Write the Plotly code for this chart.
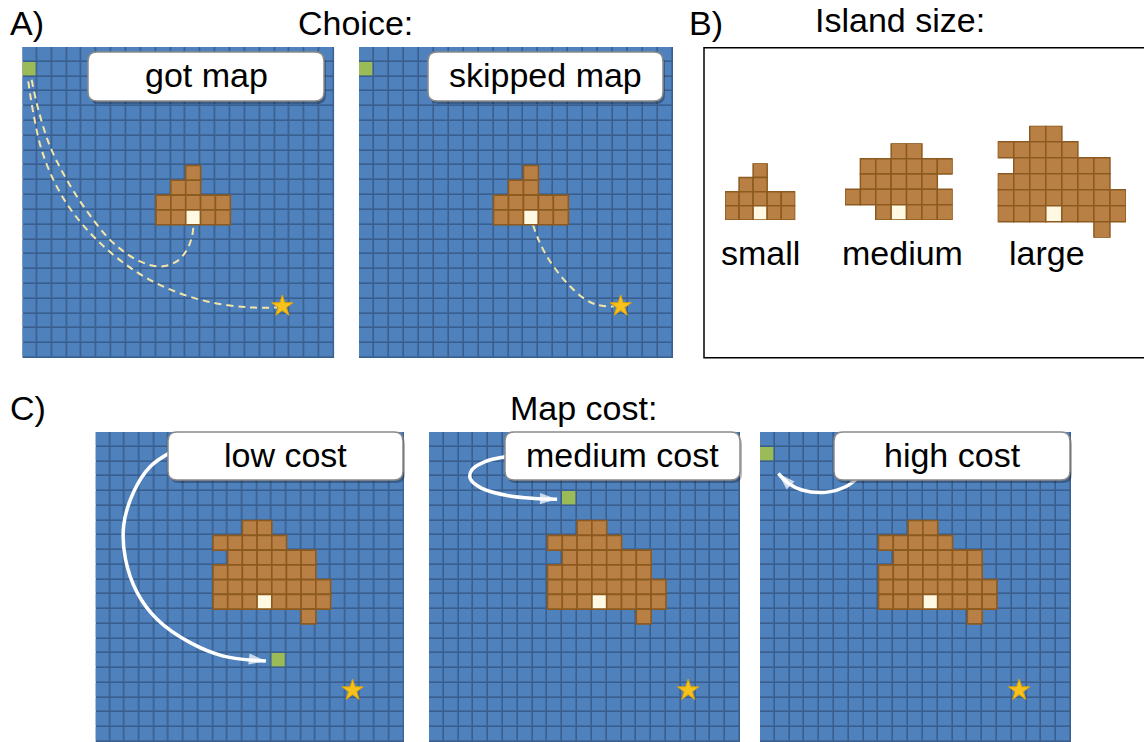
import plotly.graph_objects as go

W, H = 1144, 742
FONT = "Liberation Sans, Arial, Helvetica, sans-serif"

# ---------------- data ----------------
GRID_N = 21
SMALL_ISLAND = ["..#..",
                ".##..",
                "#####",
                "##X##"]
MEDIUM_ISLAND = ["...##..",
                 ".######",
                 ".#####.",
                 "#######",
                 "..#X###"]
LARGE_ISLAND = ["..##....",
                "#####...",
                ".######.",
                "#######.",
                "########",
                "###X####",
                "......#."]
ISLANDS = {"small": SMALL_ISLAND, "medium": MEDIUM_ISLAND, "large": LARGE_ISLAND}

PANEL_LABELS = ["got map", "skipped map", "low cost", "medium cost", "high cost"]
PANEL_ISLAND = ["small", "small", "large", "large", "large"]
ISLAND_COL0 = [9, 9, 8, 8, 8]
ISLAND_ROW0 = [8, 8, 6, 6, 6]
START_COL = [0, 0, 12, 9, 0]
START_ROW = [1, 1, 15, 4, 1]
STAR_COL = [17, 17, 17, 17, 17]
STAR_ROW = [17, 17, 17, 17, 17]

# dashed paths (grid cell coordinates)
GOT_STAR_U = [-0.10, 0.24, 0.80, 1.70, 2.94, 4.74, 6.98, 9.23, 11.93, 14.62, 16.65]
GOT_STAR_V = [1.82, 3.96, 6.44, 8.69, 10.72, 12.74, 14.55, 15.78, 16.68, 17.07, 17.09]
GOT_ISL_U = [0.13, 0.58, 1.37, 2.49, 3.95, 5.63, 7.43, 8.78, 9.90, 10.58, 10.92, 11.03]
GOT_ISL_V = [1.71, 3.73, 6.21, 8.46, 10.72, 12.74, 13.98, 14.32, 13.98, 13.19, 12.29, 11.50]
SKIP_U = [11.13, 11.51, 12.07, 12.85, 13.63, 14.52, 15.42, 16.53]
SKIP_V = [11.50, 12.52, 13.64, 14.77, 15.67, 16.46, 16.91, 17.02]

# cost arrows (grid cell coordinates)
LOW_U = [4.52, 3.23, 2.10, 1.42, 1.54, 2.33, 3.69, 5.95, 8.21, 11.10]
LOW_V = [0.93, 1.84, 3.55, 5.82, 8.09, 10.36, 12.18, 13.77, 14.68, 15.02]
MED_U = [4.76, 3.29, 2.39, 2.28, 3.07, 4.87, 6.60, 8.15]
MED_V = [1.16, 1.50, 2.07, 2.64, 3.32, 3.82, 4.00, 4.05]
HIGH_U = [6.06, 5.27, 3.91, 2.33, 1.42, 0.74]
HIGH_V = [2.65, 3.21, 3.59, 3.43, 2.98, 2.31]

TITLES = ["A)", "Choice:", "B)", "Island size:", "C)", "Map cost:"]
SIZE_LABELS = ["small", "medium", "large"]

# ---------------- layout geometry (pixels) ----------------
GRID_BOX = [(22.3, 334.3, 47, 358), (359, 673, 47, 358),
            (95.5, 404, 432, 742), (429, 740, 432, 742), (760, 1071, 432, 742)]
LABEL_BOX = [(88, 324, 52, 101), (428, 663, 52, 101),
             (168, 403, 432, 480), (505, 740, 432, 480), (834, 1070, 432, 480)]
B_ISLAND_BOX = [(725, 795.3, 163.3, 220), (845, 952.7, 143.3, 220), (997.7, 1126, 125.7, 237.7)]
B_LABEL_X = [760, 902, 1047]
TITLE_POS = [(8, 23, "left"), (355, 23, "center"), (687, 23, "left"),
             (900, 20, "center"), (8, 408, "left"), (583, 408, "center")]

WATER = "#4f81bd"
WATER_EDGE = "#3a5f8e"
LAND = "#b98046"
LAND_EDGE = "#8c5a1e"
DIG = "#fff8e2"
GREEN = "#9bbb59"
STAR = "#f7c21e"
PATH = "#f4e6a6"


def px(x):
    return x / W


def py(y):
    return 1 - y / H


fig = go.Figure()
layout = dict(width=W, height=H, margin=dict(l=0, r=0, t=0, b=0),
              paper_bgcolor="white", plot_bgcolor="rgba(0,0,0,0)",
              showlegend=False, font=dict(family=FONT, color="black"))
shapes = []
annotations = []


def add_axes(i, box, nx, ny):
    x0, x1, y0, y1 = box
    sfx = "" if i == 1 else str(i)
    layout["xaxis" + sfx] = dict(domain=[px(x0), px(x1)], range=[-0.5, nx - 0.5],
                                 visible=False, fixedrange=True, anchor="y" + sfx)
    layout["yaxis" + sfx] = dict(domain=[py(y1), py(y0)], range=[ny - 0.5, -0.5],
                                 visible=False, fixedrange=True, anchor="x" + sfx)
    return "x" + sfx, "y" + sfx


def island_shapes(xr, yr, island, c0, r0, lw):
    for r, row in enumerate(island):
        for c, ch in enumerate(row):
            if ch == ".":
                continue
            shapes.append(dict(type="rect", xref=xr, yref=yr,
                               x0=c0 + c - 0.5, x1=c0 + c + 0.5,
                               y0=r0 + r - 0.5, y1=r0 + r + 0.5,
                               fillcolor=DIG if ch == "X" else LAND,
                               line=dict(color=LAND_EDGE, width=lw)))


def rounded_box(x0, x1, y0, y1, r, **kw):
    rx, ry = r / W, r / H
    X0, X1, Y0, Y1 = px(x0), px(x1), py(y0), py(y1)
    path = (f"M{X0+rx},{Y0} L{X1-rx},{Y0} Q{X1},{Y0} {X1},{Y0-ry} "
            f"L{X1},{Y1+ry} Q{X1},{Y1} {X1-rx},{Y1} L{X0+rx},{Y1} "
            f"Q{X0},{Y1} {X0},{Y1+ry} L{X0},{Y0-ry} Q{X0},{Y0} {X0+rx},{Y0} Z")
    d = dict(type="path", xref="paper", yref="paper", path=path)
    d.update(kw)
    shapes.append(d)


# ---------------- grids ----------------
for i in range(5):
    xr, yr = add_axes(i + 1, GRID_BOX[i], GRID_N, GRID_N)
    z = [[0] * GRID_N for _ in range(GRID_N)]
    z[START_ROW[i]][START_COL[i]] = 1
    shapes.append(dict(type="rect", xref=xr, yref=yr, layer="below",
                       x0=-0.5, x1=GRID_N - 0.5, y0=-0.5, y1=GRID_N - 0.5,
                       fillcolor=WATER_EDGE, line=dict(width=0)))
    fig.add_trace(go.Heatmap(z=z, x=list(range(GRID_N)), y=list(range(GRID_N)),
                             xaxis=xr, yaxis=yr, zmin=0, zmax=1, showscale=False,
                             colorscale=[[0, WATER], [0.5, WATER], [0.5, GREEN], [1, GREEN]],
                             xgap=1.6, ygap=1.6, hoverinfo="skip"))
    island_shapes(xr, yr, ISLANDS[PANEL_ISLAND[i]], ISLAND_COL0[i], ISLAND_ROW0[i], 1.6)

    # paths / arrows
    if i == 0:
        for uu, vv in [(GOT_STAR_U, GOT_STAR_V), (GOT_ISL_U, GOT_ISL_V)]:
            fig.add_trace(go.Scatter(x=uu, y=vv, xaxis=xr, yaxis=yr, mode="lines",
                                     line=dict(color=PATH, width=2, dash="7px,5px", shape="spline"),
                                     hoverinfo="skip"))
    elif i == 1:
        fig.add_trace(go.Scatter(x=SKIP_U, y=SKIP_V, xaxis=xr, yaxis=yr, mode="lines",
                                 line=dict(color=PATH, width=2, dash="7px,5px", shape="spline"),
                                 hoverinfo="skip"))
    else:
        uu, vv = [(LOW_U, LOW_V), (MED_U, MED_V), (HIGH_U, HIGH_V)][i - 2]
        fig.add_trace(go.Scatter(x=uu, y=vv, xaxis=xr, yaxis=yr, mode="lines+markers",
                                 line=dict(color="white", width=3.5, shape="spline"),
                                 marker=dict(symbol="arrow", size=[0] * (len(uu) - 1) + [18],
                                             angleref="previous", color="white",
                                             line=dict(width=0)),
                                 hoverinfo="skip"))

    fig.add_trace(go.Scatter(x=[STAR_COL[i]], y=[STAR_ROW[i]], xaxis=xr, yaxis=yr,
                             mode="markers", hoverinfo="skip",
                             marker=dict(symbol="star", size=16, color=STAR,
                                         line=dict(color="#e0a300", width=1))))

    # label box
    bx0, bx1, by0, by1 = LABEL_BOX[i]
    rounded_box(bx0 + 2, bx1 + 2, by0 + 3, by1 + 3, 9,
                fillcolor="rgba(0,0,0,0.28)", line=dict(width=0))
    rounded_box(bx0, bx1, by0, by1, 9, fillcolor="white",
                line=dict(color="#8a8a8a", width=1.5))
    annotations.append(dict(x=px((bx0 + bx1) / 2), y=py((by0 + by1) / 2 - 1),
                            xref="paper", yref="paper", text=PANEL_LABELS[i],
                            showarrow=False, xanchor="center", yanchor="middle",
                            font=dict(size=34, family=FONT, color="black")))

# ---------------- panel B ----------------
shapes.append(dict(type="rect", xref="paper", yref="paper",
                   x0=px(704), x1=px(1150), y0=py(357.7), y1=py(47.7),
                   line=dict(color="black", width=1.5), fillcolor="rgba(0,0,0,0)"))
for k, name in enumerate(["small", "medium", "large"]):
    isl = ISLANDS[name]
    xr, yr = add_axes(6 + k, B_ISLAND_BOX[k], len(isl[0]), len(isl))
    fig.add_trace(go.Scatter(x=[0], y=[0], xaxis=xr, yaxis=yr, mode="markers",
                             marker=dict(opacity=0), hoverinfo="skip"))
    island_shapes(xr, yr, isl, 0, 0, 1.5)
    annotations.append(dict(x=px(B_LABEL_X[k]), y=py(253), xref="paper", yref="paper",
                            text=SIZE_LABELS[k], showarrow=False,
                            xanchor="center", yanchor="middle",
                            font=dict(size=34, family=FONT, color="black")))

for t, (tx, ty, anc) in zip(TITLES, TITLE_POS):
    annotations.append(dict(x=px(tx), y=py(ty), xref="paper", yref="paper", text=t,
                            showarrow=False, xanchor=anc, yanchor="middle",
                            font=dict(size=34, family=FONT, color="black")))

layout["shapes"] = shapes
layout["annotations"] = annotations
fig.update_layout(**layout)
fig.write_html("out.html", config={"displayModeBar": False, "staticPlot": True},
               post_script="document.body.style.margin='0px';document.body.style.overflow='hidden';")
